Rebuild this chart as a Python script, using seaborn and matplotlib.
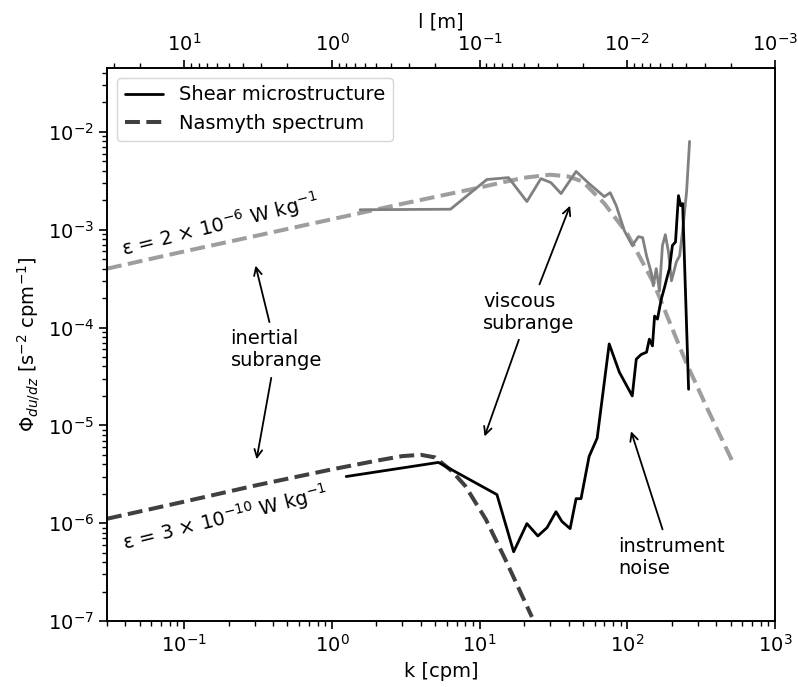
import seaborn as sns
import matplotlib.pyplot as plt
import pandas as pd
import numpy as np

# ----------------------------
# Values
# ----------------------------
# high dissipation: shear spectrum (grey) and Nasmyth fit (light grey dashed)
k_shear_hi = [1.55, 6.35, 11.2, 15.7, 20.9, 26.0, 30.4, 35.6, 45, 55, 69.8, 76.6,
              84.2, 95.4, 108, 119, 127, 135, 146, 150, 157, 165, 173, 181, 190,
              199, 215, 226, 237, 252, 264]
phi_shear_hi = [1.6e-3, 1.62e-3, 3.26e-3, 3.41e-3, 1.94e-3, 3.33e-3, 3.03e-3,
                2.34e-3, 3.94e-3, 2.97e-3, 2.18e-3, 2.39e-3, 1.76e-3, 9.8e-4,
                6.9e-4, 8.5e-4, 8.3e-4, 5.4e-4, 3.54e-4, 2.67e-4, 4.0e-4, 2.37e-4,
                6.9e-4, 8.9e-4, 5.9e-4, 3.0e-4, 4.7e-4, 5.4e-4, 9.8e-4, 2.45e-3,
                8.0e-3]

k_nasmyth_hi = [0.03, 0.1, 0.3, 1, 3, 10, 15, 20, 30, 40, 50, 70, 100, 150, 250,
                350, 530]
phi_nasmyth_hi = [4.0e-4, 6.0e-4, 8.6e-4, 1.28e-3, 1.84e-3, 2.7e-3, 3.1e-3,
                  3.4e-3, 3.65e-3, 3.5e-3, 3.1e-3, 1.85e-3, 9.1e-4, 2.9e-4,
                  4.4e-5, 1.46e-5, 3.9e-6]

# low dissipation: shear spectrum (black) and Nasmyth fit (dark dashed)
k_shear_lo = [1.25, 5.26, 13.1, 17.0, 20.9, 24.8, 28.6, 32.9, 36.1, 41.0, 45.0,
              48.6, 55.1, 62.5, 75.4, 88.3, 108, 115, 124, 135, 141, 148, 153,
              160, 170, 179, 187, 193, 202, 212, 222, 230, 237, 260]
phi_shear_lo = [3.0e-6, 4.18e-6, 1.96e-6, 5.1e-7, 9.9e-7, 7.4e-7, 9.0e-7,
                1.31e-6, 1.04e-6, 8.8e-7, 1.78e-6, 1.78e-6, 4.8e-6, 7.4e-6,
                6.8e-5, 3.5e-5, 2.0e-5, 4.75e-5, 5.3e-5, 5.6e-5, 7.6e-5, 6.5e-5,
                1.31e-4, 1.22e-4, 1.96e-4, 2.6e-4, 3.37e-4, 4.0e-4, 6.9e-4,
                7.5e-4, 2.23e-3, 1.76e-3, 1.85e-3, 2.34e-5]

k_nasmyth_lo = [0.03, 0.1, 0.3, 1, 2, 3, 4, 5, 6.5, 8, 11, 15, 22.6]
phi_nasmyth_lo = [1.11e-6, 1.66e-6, 2.42e-6, 3.55e-6, 4.35e-6, 4.85e-6, 5.0e-6,
                  4.7e-6, 3.4e-6, 2.4e-6, 1.1e-6, 4.2e-7, 1.1e-7]

k_range = (0.03, 1000)

# ----------------------------
# Styling
# ----------------------------
sns.set_style("ticks")
plt.rcParams["font.family"] = ["DejaVu Sans"]
plt.rcParams["font.size"] = 14
plt.rcParams["text.color"] = "black"
plt.rcParams["axes.labelcolor"] = "black"
plt.rcParams["axes.edgecolor"] = "black"
plt.rcParams["xtick.color"] = "black"
plt.rcParams["ytick.color"] = "black"
plt.rcParams["xtick.major.size"] = 6
plt.rcParams["ytick.major.size"] = 6
plt.rcParams["xtick.minor.size"] = 3.5
plt.rcParams["ytick.minor.size"] = 3.5
plt.rcParams["xtick.major.width"] = 1.2
plt.rcParams["ytick.major.width"] = 1.2
plt.rcParams["xtick.minor.width"] = 1.0
plt.rcParams["ytick.minor.width"] = 1.0
plt.rcParams["axes.linewidth"] = 1.2

fig = plt.figure(figsize=(7.98, 6.87), dpi=100)
ax = fig.add_axes([107 / 798, 1 - 621 / 687, (775 - 107) / 798, (621 - 68) / 687])

sns.lineplot(x=k_nasmyth_hi, y=phi_nasmyth_hi, ax=ax, color="0.62", lw=2.9,
             linestyle="--", sort=False, estimator=None)
sns.lineplot(x=k_shear_hi, y=phi_shear_hi, ax=ax, color="0.5", lw=2.0,
             sort=False, estimator=None)
sns.lineplot(x=k_nasmyth_lo, y=phi_nasmyth_lo, ax=ax, color="0.25", lw=2.9,
             linestyle="--", sort=False, estimator=None, label="Nasmyth spectrum")
sns.lineplot(x=k_shear_lo, y=phi_shear_lo, ax=ax, color="k", lw=2.0,
             sort=False, estimator=None, label="Shear microstructure")

ax.set_xscale("log")
ax.set_yscale("log")
ax.set_xlim(*k_range)
ax.set_ylim(1e-7, 4.5e-2)
ax.set_xlabel("k [cpm]")
ax.set_ylabel(r"$\Phi_{du/dz}$ [s$^{-2}$ cpm$^{-1}$]")

# legend: solid first, dashed second
h, l = ax.get_legend_handles_labels()
ax.legend([h[1], h[0]], [l[1], l[0]], loc="upper left", fontsize=14)

# top axis in wavelength l = 1/k
top = ax.twiny()
top.set_xscale("log")
top.set_xlim(1 / k_range[0], 1 / k_range[1])
top.set_xlabel("l [m]")

# ----------------------------
# Annotations
# ----------------------------
ax.text(0.175, 1.12e-3, "ε = 2 × 10$^{-6}$ W kg$^{-1}$", rotation=14,
        ha="center", va="center")
ax.text(0.19, 1.14e-6, "ε = 3 × 10$^{-10}$ W kg$^{-1}$", rotation=14,
        ha="center", va="center")

arrow = dict(arrowstyle="->", color="k", lw=1.3, shrinkA=3, shrinkB=0)
ax.annotate("inertial\nsubrange", xy=(0.304, 4.3e-4), xytext=(0.42, 5.9e-5),
            ha="center", va="center", ma="left", arrowprops=arrow)
ax.annotate("inertial\nsubrange", xy=(0.309, 4.5e-6), xytext=(0.42, 5.9e-5),
            ha="center", va="center", ma="left", color="none", arrowprops=arrow)
ax.annotate("viscous\nsubrange", xy=(41, 1.76e-3), xytext=(21.5, 1.44e-4),
            ha="center", va="center", ma="left", arrowprops=arrow)
ax.annotate("viscous\nsubrange", xy=(10.8, 7.7e-6), xytext=(21.5, 1.44e-4),
            ha="center", va="center", ma="left", color="none", arrowprops=arrow)
ax.annotate("instrument\nnoise", xy=(106, 8.7e-6), xytext=(199, 4.5e-7),
            ha="center", va="center", ma="left", arrowprops=arrow)

fig.savefig("out.png", dpi=100)
plt.close(fig)
